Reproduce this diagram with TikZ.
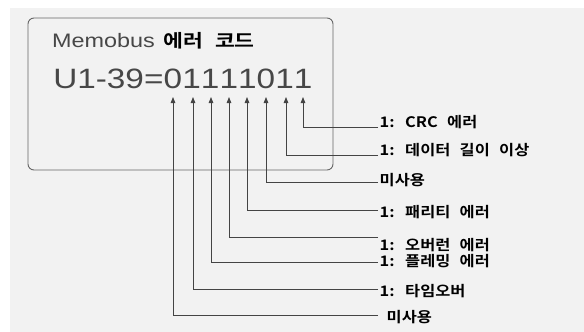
\documentclass[tikz,border=0pt]{standalone}
\usepackage{fontspec}
\newfontfamily\lsans{Liberation Sans}
\newfontfamily\kr{Noto Sans CJK KR}[BoldFont={Noto Sans CJK KR Bold},WordSpace=2.5]
\usetikzlibrary{arrows.meta}
\definecolor{bgc}{HTML}{F2F2F2}
\definecolor{boxc}{HTML}{666666}
\definecolor{linec}{HTML}{444444}
\definecolor{txtc}{HTML}{474747}
\newcommand\klbl[1]{\scalebox{1.13}[1]{#1}}
\tikzset{
  frame/.style={draw=boxc,line width=0.9pt,rounded corners=6pt},
  bitarrow/.style={draw=linec,line width=0.85pt,-{Triangle[length=6pt,width=4.5pt]}},
  lbl/.style={anchor=west,inner xsep=1.5pt,inner ysep=0pt,text=black,font=\kr\bfseries\fontsize{14.5}{16}\selectfont},
  digit/.style={anchor=base,inner sep=0pt,text=txtc,font=\lsans\fontsize{28}{30}\selectfont},
}
\begin{document}
\begin{tikzpicture}[x=1pt,y=-1pt]
\useasboundingbox (0,0) rectangle (584,332);
\fill[white] (0,0) rectangle (584,332);
\fill[bgc] (10,8) rectangle (584,332);
\draw[frame] (28,18) rectangle (333,170);
% title
\node[anchor=base west,inner sep=0pt,text=txtc] (title) at (52,47)
  {\scalebox{1.2}[1]{\lsans\fontsize{19.5}{21}\selectfont Memobus\hspace{0.35em}{\kr\bfseries\color{black}\fontsize{18}{21}\selectfont 에러 코드}}};
% register value
\node[anchor=base east,inner sep=0pt,text=txtc,font=\lsans\fontsize{28}{30}\selectfont] (reg) at (163.7,88) {\scalebox{1.19}[1]{U1-39=}};
\node[digit] (d7) at (173,88) {\scalebox{1.19}[1]{0}};
\node[digit] (d6) at (191.6,88) {\scalebox{1.19}[1]{1}};
\node[digit] (d5) at (210.2,88) {\scalebox{1.19}[1]{1}};
\node[digit] (d4) at (228.8,88) {\scalebox{1.19}[1]{1}};
\node[digit] (d3) at (247.4,88) {\scalebox{1.19}[1]{1}};
\node[digit] (d2) at (266,88) {\scalebox{1.19}[1]{0}};
\node[digit] (d1) at (284.6,88) {\scalebox{1.19}[1]{1}};
\node[digit] (d0) at (303.2,88) {\scalebox{1.19}[1]{1}};
% arrow tips
\coordinate (b7) at (173,97);
\coordinate (b6) at (193,97);
\coordinate (b5) at (211,97);
\coordinate (b4) at (229,97);
\coordinate (b3) at (247,97);
\coordinate (b2) at (266,97);
\coordinate (b1) at (286,97);
\coordinate (b0) at (303,97);
% labels
\node[lbl] (l0) at (378,122) {\klbl{1: CRC 에러}};
\node[lbl] (l1) at (378,150) {\klbl{1: 데이터 길이 이상}};
\node[lbl] (l2) at (378,180) {\klbl{미사용}};
\node[lbl] (l3) at (378,212) {\klbl{1: 패리티 에러}};
\node[lbl] (l4) at (378,245) {\klbl{1: 오버런 에러}};
\node[lbl] (l5) at (378,261) {\klbl{1: 플레밍 에러}};
\node[lbl] (l6) at (378,291) {\klbl{1: 타임오버}};
\node[lbl] (l7) at (385,317) {\klbl{미사용}};
% connectors
\draw[bitarrow] ([yshift=-5pt]l0.west) -| (b0);
\draw[bitarrow] ([yshift=-5pt]l1.west) -| (b1);
\draw[bitarrow] ([yshift=-2pt]l2.west) -| (b2);
\draw[bitarrow] ([yshift=2pt]l3.west) -| (b3);
\draw[bitarrow] ([yshift=8pt]l4.west) -| (b4);
\draw[bitarrow] ([yshift=-1pt]l5.west) -| (b5);
\draw[bitarrow] ([yshift=2pt]l6.west) -| (b6);
\draw[bitarrow] ([yshift=2pt,xshift=-7pt]l7.west) -| (b7);
\end{tikzpicture}
\end{document}
